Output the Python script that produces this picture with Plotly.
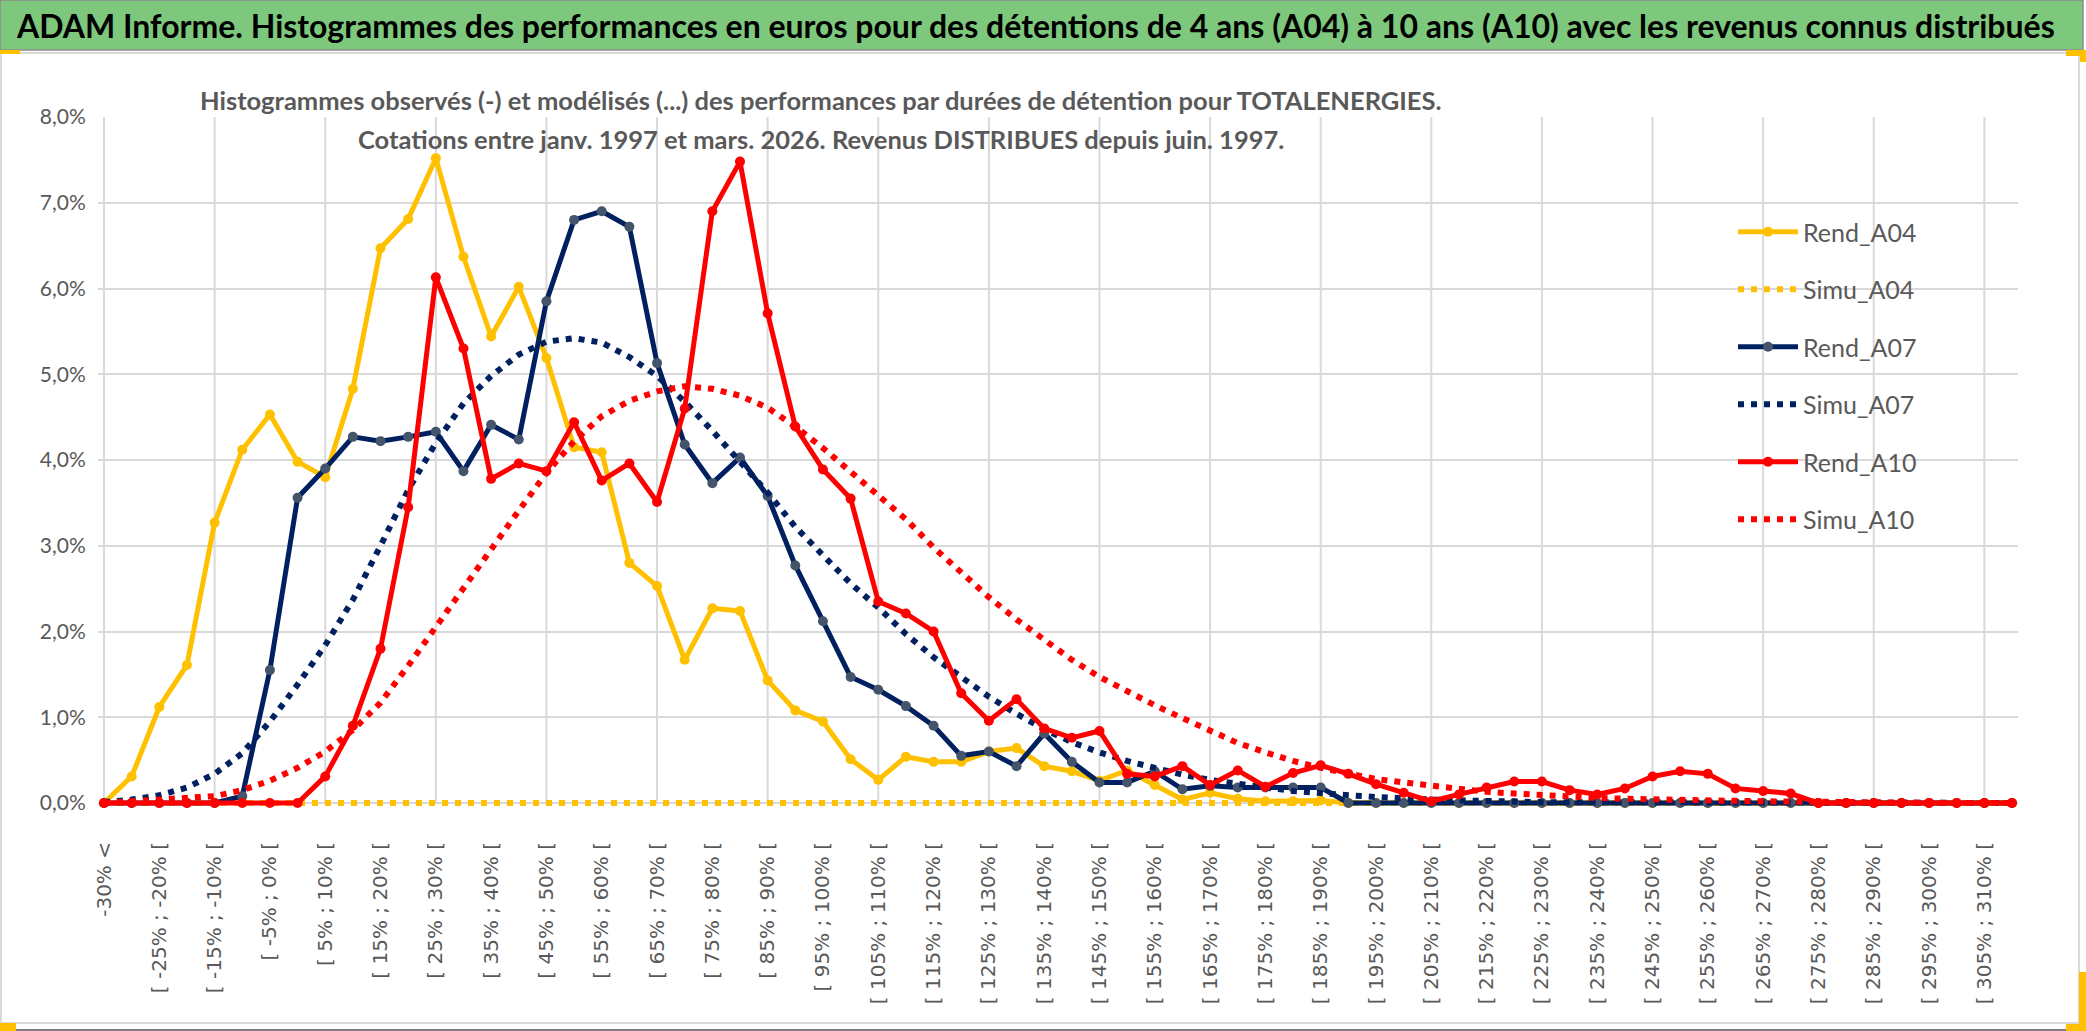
import plotly.graph_objects as go

# ---------------- data ----------------
categories = [
    "-30% <",
    "[ -30% ; -25% [", "[ -25% ; -20% [", "[ -20% ; -15% [", "[ -15% ; -10% [",
    "[ -10% ; -5% [", "[ -5% ; 0% [", "[ 0% ; 5% [", "[ 5% ; 10% [",
    "[ 10% ; 15% [", "[ 15% ; 20% [", "[ 20% ; 25% [", "[ 25% ; 30% [",
    "[ 30% ; 35% [", "[ 35% ; 40% [", "[ 40% ; 45% [", "[ 45% ; 50% [",
    "[ 50% ; 55% [", "[ 55% ; 60% [", "[ 60% ; 65% [", "[ 65% ; 70% [",
    "[ 70% ; 75% [", "[ 75% ; 80% [", "[ 80% ; 85% [", "[ 85% ; 90% [",
    "[ 90% ; 95% [", "[ 95% ; 100% [", "[ 100% ; 105% [", "[ 105% ; 110% [",
    "[ 110% ; 115% [", "[ 115% ; 120% [", "[ 120% ; 125% [", "[ 125% ; 130% [",
    "[ 130% ; 135% [", "[ 135% ; 140% [", "[ 140% ; 145% [", "[ 145% ; 150% [",
    "[ 150% ; 155% [", "[ 155% ; 160% [", "[ 160% ; 165% [", "[ 165% ; 170% [",
    "[ 170% ; 175% [", "[ 175% ; 180% [", "[ 180% ; 185% [", "[ 185% ; 190% [",
    "[ 190% ; 195% [", "[ 195% ; 200% [", "[ 200% ; 205% [", "[ 205% ; 210% [",
    "[ 210% ; 215% [", "[ 215% ; 220% [", "[ 220% ; 225% [", "[ 225% ; 230% [",
    "[ 230% ; 235% [", "[ 235% ; 240% [", "[ 240% ; 245% [", "[ 245% ; 250% [",
    "[ 250% ; 255% [", "[ 255% ; 260% [", "[ 260% ; 265% [", "[ 265% ; 270% [",
    "[ 270% ; 275% [", "[ 275% ; 280% [", "[ 280% ; 285% [", "[ 285% ; 290% [",
    "[ 290% ; 295% [", "[ 295% ; 300% [", "[ 300% ; 305% [", "[ 305% ; 310% [",
    "> 310%",
]

# values in percent
rend_a04 = [0.00, 0.31, 1.12, 1.61, 3.27, 4.12, 4.53, 3.98, 3.80, 4.83,
            6.47, 6.81, 7.52, 6.37, 5.44, 6.02, 5.19, 4.15, 4.09, 2.80,
            2.53, 1.67, 2.27, 2.24, 1.43, 1.08, 0.95, 0.51, 0.27, 0.54,
            0.48, 0.48, 0.60, 0.64, 0.43, 0.37, 0.26, 0.38, 0.21, 0.04,
            0.12, 0.05, 0.02, 0.02, 0.03, 0.00, 0.00, 0.00, 0.00, 0.00,
            0.00, 0.00, 0.00, 0.00, 0.00, 0.00, 0.00, 0.00, 0.00, 0.00,
            0.00, 0.00, 0.00, 0.00, 0.00, 0.00, 0.00, 0.00, 0.00, 0.00]

simu_a04 = [0.00] * 70

rend_a07 = [0.00, 0.00, 0.00, 0.00, 0.00, 0.08, 1.55, 3.56, 3.90, 4.27,
            4.22, 4.27, 4.33, 3.87, 4.41, 4.24, 5.85, 6.80, 6.90, 6.72,
            5.13, 4.18, 3.73, 4.03, 3.58, 2.77, 2.12, 1.47, 1.32, 1.13,
            0.90, 0.55, 0.60, 0.43, 0.81, 0.48, 0.24, 0.24, 0.37, 0.16,
            0.20, 0.18, 0.18, 0.18, 0.18, 0.00, 0.00, 0.00, 0.00, 0.00,
            0.00, 0.00, 0.00, 0.00, 0.00, 0.00, 0.00, 0.00, 0.00, 0.00,
            0.00, 0.00, 0.00, 0.00, 0.00, 0.00, 0.00, 0.00, 0.00, 0.00]

simu_a07 = [0.01, 0.04, 0.09, 0.18, 0.34, 0.58, 0.95, 1.38, 1.84, 2.37,
            3.00, 3.65, 4.20, 4.66, 4.98, 5.23, 5.38, 5.42, 5.37, 5.20,
            4.98, 4.68, 4.34, 3.98, 3.62, 3.22, 2.89, 2.56, 2.28, 1.97,
            1.70, 1.46, 1.24, 1.04, 0.86, 0.71, 0.59, 0.49, 0.41, 0.33,
            0.27, 0.22, 0.18, 0.14, 0.11, 0.09, 0.07, 0.05, 0.04, 0.03,
            0.02, 0.02, 0.01, 0.01, 0.01, 0.00, 0.00, 0.00, 0.00, 0.00,
            0.00, 0.00, 0.00, 0.00, 0.00, 0.00, 0.00, 0.00, 0.00, 0.00]

rend_a10 = [0.00, 0.00, 0.00, 0.00, 0.00, 0.00, 0.00, 0.00, 0.31, 0.90,
            1.80, 3.45, 6.13, 5.30, 3.78, 3.96, 3.87, 4.44, 3.76, 3.96,
            3.51, 4.60, 6.90, 7.48, 5.71, 4.39, 3.89, 3.55, 2.35, 2.21,
            2.00, 1.28, 0.96, 1.21, 0.87, 0.76, 0.84, 0.34, 0.31, 0.43,
            0.21, 0.38, 0.19, 0.35, 0.44, 0.34, 0.22, 0.12, 0.02, 0.10,
            0.18, 0.25, 0.25, 0.15, 0.10, 0.17, 0.31, 0.37, 0.34, 0.17,
            0.14, 0.11, 0.00, 0.00, 0.00, 0.00, 0.00, 0.00, 0.00, 0.00]

simu_a10 = [0.00, 0.02, 0.03, 0.05, 0.08, 0.15, 0.26, 0.41, 0.60, 0.85,
            1.17, 1.60, 2.06, 2.52, 2.97, 3.41, 3.85, 4.22, 4.51, 4.69,
            4.80, 4.86, 4.83, 4.75, 4.61, 4.39, 4.14, 3.86, 3.60, 3.31,
            2.98, 2.68, 2.40, 2.14, 1.91, 1.67, 1.47, 1.30, 1.14, 0.99,
            0.84, 0.70, 0.59, 0.49, 0.41, 0.34, 0.28, 0.24, 0.20, 0.16,
            0.13, 0.11, 0.09, 0.07, 0.06, 0.05, 0.04, 0.035, 0.03, 0.025,
            0.02, 0.015, 0.01, 0.01, 0.00, 0.00, 0.00, 0.00, 0.00, 0.00]

series_names = ["Rend_A04", "Simu_A04", "Rend_A07", "Simu_A07", "Rend_A10", "Simu_A10"]

title_text = ("ADAM Informe. Histogrammes des performances en euros pour des détentions "
              "de 4 ans (A04) à 10 ans (A10) avec les revenus connus distribués")
subtitle_1 = ("Histogrammes observés (-) et modélisés (...) des performances par durées "
              "de détention pour TOTALENERGIES.")
subtitle_2 = "Cotations entre janv. 1997 et mars. 2026. Revenus DISTRIBUES depuis juin. 1997."

# ---------------- layout geometry (pixels) ----------------
W, H = 2086, 1031
XFIRST, XLAST = 104, 2012      # pixel of first / last category
Y0PX, YTOPPX = 803, 117        # pixel of 0 % / 8 %
YMAX = 0.08
PL, PR, PT, PB = 98, 2018, 117, 807   # plot area

n_cat = len(categories)
step = (XLAST - XFIRST) / (n_cat - 1)
x_range = [-(XFIRST - PL) / step, (n_cat - 1) + (PR - XLAST) / step]
per_unit = (Y0PX - YTOPPX) / YMAX
y_range = [-(PB - Y0PX) / per_unit, YMAX]


def fx(px):
    return (px - PL) / (PR - PL)


def fy(py):
    return (PB - py) / (PB - PT)


idx = list(range(n_cat))
YEL, NAVY, NAVY_MK, RED = "#FFC000", "#002060", "#44546A", "#FF0000"
GRID = "#D9D9D9"
TXT = "#595959"

fig = go.Figure()

styles = {
    "Rend_A04": dict(data=rend_a04, color=YEL, mk=YEL, solid=True),
    "Simu_A04": dict(data=simu_a04, color=YEL, mk=YEL, solid=False),
    "Rend_A07": dict(data=rend_a07, color=NAVY, mk=NAVY_MK, solid=True),
    "Simu_A07": dict(data=simu_a07, color=NAVY, mk=NAVY, solid=False),
    "Rend_A10": dict(data=rend_a10, color=RED, mk=RED, solid=True),
    "Simu_A10": dict(data=simu_a10, color=RED, mk=RED, solid=False),
}

for name in series_names:
    s = styles[name]
    yv = [v / 100 for v in s["data"]]
    if s["solid"]:
        fig.add_trace(go.Scatter(
            x=idx, y=yv, name=name, mode="lines+markers", legendgroup=name,
            line=dict(color=s["color"], width=5),
            marker=dict(color=s["mk"], size=10, line=dict(width=0)),
            cliponaxis=False,
        ))
    else:
        fig.add_trace(go.Scatter(
            x=idx, y=yv, name=name, mode="lines", legendgroup=name,
            line=dict(color=s["color"], width=6, dash="6px,7px"),
            cliponaxis=False,
        ))

shapes = []
# vertical grid lines every 4 categories
for v in idx[0::4]:
    shapes.append(dict(type="line", xref="x", yref="y", x0=v, x1=v, y0=0, y1=YMAX,
                       layer="below", line=dict(color=GRID, width=2)))
# white boxes behind subtitle and legend (hide gridlines)
shapes.append(dict(type="rect", xref="paper", yref="paper",
                   x0=fx(200), x1=fx(1445), y0=fy(160), y1=fy(60),
                   fillcolor="white", line=dict(width=0), layer="between"))
shapes.append(dict(type="rect", xref="paper", yref="paper",
                   x0=fx(1675), x1=fx(1986), y0=fy(546), y1=fy(206),
                   fillcolor="white", line=dict(width=0), layer="between"))
# green title bar
shapes.append(dict(type="rect", xref="paper", yref="paper",
                   x0=fx(0), x1=fx(2083), y0=fy(50), y1=fy(0),
                   fillcolor="#7DC87D", line=dict(color="#8C8C8C", width=1.5), layer="below"))
# chart border
shapes.append(dict(type="rect", xref="paper", yref="paper",
                   x0=fx(1), x1=fx(2079), y0=fy(1023), y1=fy(53),
                   fillcolor="rgba(0,0,0,0)", line=dict(color=GRID, width=2), layer="below"))
shapes.append(dict(type="line", xref="paper", yref="paper",
                   x0=fx(0), x1=fx(2086), y0=fy(1030), y1=fy(1030),
                   line=dict(color="#7F7F7F", width=2), layer="below"))
# small yellow selection marks
for (a, b, c, d) in [(0, 1023, 16, 1031), (0, 50, 20, 54), (2066, 50, 2086, 56),
                     (2080, 50, 2086, 62), (2079, 972, 2086, 1031), (2066, 1024, 2086, 1031)]:
    shapes.append(dict(type="rect", xref="paper", yref="paper",
                       x0=fx(a), x1=fx(c), y0=fy(d), y1=fy(b),
                       fillcolor=YEL, line=dict(width=0), layer="below"))

annotations = [
    dict(text="<b>" + title_text + "</b>", xref="paper", yref="paper",
         x=fx(1035), y=fy(25), xanchor="center", yanchor="middle", showarrow=False,
         font=dict(family="Lato", size=32, color="black")),
    dict(text="<b>" + subtitle_1 + "</b>", xref="paper", yref="paper",
         x=fx(821), y=fy(100), xanchor="center", yanchor="middle", showarrow=False,
         font=dict(family="Lato", size=25.5, color=TXT)),
    dict(text="<b>" + subtitle_2 + "</b>", xref="paper", yref="paper",
         x=fx(821), y=fy(139), xanchor="center", yanchor="middle", showarrow=False,
         font=dict(family="Lato", size=25.5, color=TXT)),
]

fig.update_layout(
    width=W, height=H, autosize=False,
    margin=dict(l=PL, r=W - PR, t=PT, b=H - PB, pad=0),
    paper_bgcolor="white", plot_bgcolor="white",
    separators=", ",
    showlegend=True,
    legend=dict(
        x=fx(1733), y=fy(209), xanchor="left", yanchor="top",
        bgcolor="rgba(0,0,0,0)", borderwidth=0,
        font=dict(family="Lato", size=25, color=TXT),
        traceorder="grouped", tracegroupgap=22, itemwidth=60,
    ),
    xaxis=dict(
        range=x_range,
        tickmode="array", tickvals=idx[0::2], ticktext=categories[0::2],
        tickangle=-90, tickfont=dict(family="DejaVu Sans", size=20, color=TXT),
        showgrid=False, zeroline=False, showline=False,
        ticks="outside", ticklen=26, tickcolor="rgba(0,0,0,0)",
    ),
    yaxis=dict(
        range=y_range, tick0=0, dtick=0.01, tickformat=".1%",
        showgrid=True, gridcolor=GRID, gridwidth=2, zeroline=False, showline=False,
        ticks="outside", ticklen=7, tickcolor="rgba(0,0,0,0)",
        tickfont=dict(family="Lato", size=21, color=TXT),
    ),
    shapes=shapes,
    annotations=annotations,
)

fig.write_html("out.html", config={"displayModeBar": False},
               post_script="document.body.style.margin='0px';")
